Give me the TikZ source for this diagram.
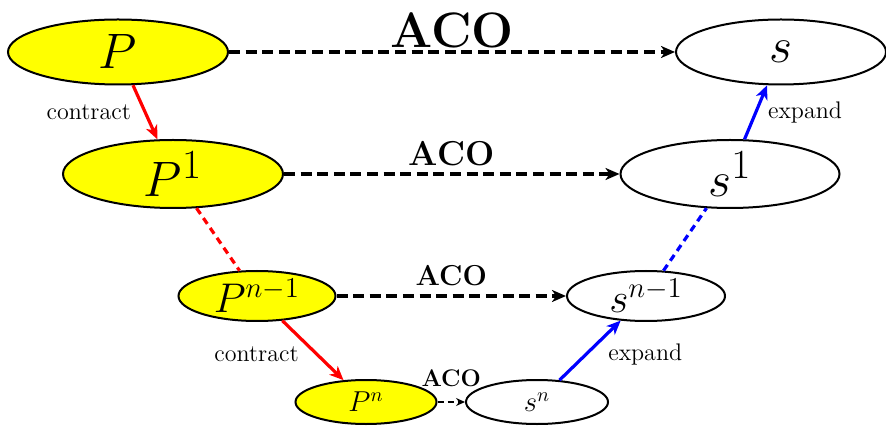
\documentclass[tikz,border=0pt]{standalone}
\usepackage{amsmath}
\usepackage{tikz}
\usetikzlibrary{arrows.meta,shapes.geometric}
\definecolor{prob_yellow}{RGB}{255,255,0}

\begin{document}
\begin{tikzpicture}[x=0.5pt, y=-0.5pt,
    prob/.style={ellipse, draw=black, line width=1pt, fill=prob_yellow, inner sep=0pt},
    sol/.style={ellipse, draw=black, line width=1pt, fill=white, inner sep=0pt},
    aco/.style={-{Stealth[length=7pt,width=6pt,inset=2pt]}, line width=2pt, dash pattern=on 5.5pt off 2.8pt},
    contractarr/.style={-{Stealth[length=7pt,width=6pt,inset=2pt]}, line width=1.6pt, red},
    expandarr/.style={-{Stealth[length=7pt,width=6pt,inset=2pt]}, line width=1.6pt, blue}]
  \useasboundingbox (0,0) rectangle (886,426);
  % Problem side (contraction)
  \node[prob, minimum width=110pt, minimum height=32.5pt] (p0) at (118,52)
    {\Huge $P$};
  \node[prob, minimum width=110pt, minimum height=34pt] (p1) at (173,174)
    {\Huge $P^1$};
  \node[prob, minimum width=78.5pt, minimum height=25pt] (pn1) at (257,296)
    {\huge $P^{n-1}$};
  \node[prob, minimum width=70.5pt, minimum height=22pt] (pn) at (366,402)
    {\Large $P^n$};
  % Solution side (expansion)
  \node[sol, minimum width=105pt, minimum height=32.5pt] (s0) at (781,52)
    {\Huge $s$};
  \node[sol, minimum width=109.5pt, minimum height=34pt] (s1) at (730,174)
    {\Huge $s^1$};
  \node[sol, minimum width=79pt, minimum height=25pt] (sn1) at (646,296)
    {\huge $s^{n-1}$};
  \node[sol, minimum width=71pt, minimum height=22pt] (sn) at (537,402)
    {\Large $s^n$};
  % ACO runs
  \draw[aco] (p0) -- (s0)
    node[midway, above, inner sep=1pt]{\Huge\bfseries ACO};
  \draw[aco] (p1) -- (s1)
    node[midway, above, inner sep=3pt]{\LARGE\bfseries ACO};
  \draw[aco] (pn1) -- (sn1)
    node[midway, above, inner sep=4pt]{\Large\bfseries ACO};
  \draw[-{Stealth[length=4.5pt,width=4pt,inset=1.5pt]}, line width=1pt, dash pattern=on 3pt off 2pt]
    (pn) -- (sn) node[midway, above, inner sep=7pt]{\large\bfseries ACO};
  % Contract
  \draw[contractarr] (p0) -- (p1)
    node[midway, left, xshift=-3pt, text=black]{\large contract};
  \draw[red, line width=1.6pt, dash pattern=on 3.5pt off 2.5pt] (p1) -- (pn1);
  \draw[contractarr] (pn1) -- (pn)
    node[midway, left, xshift=-3pt, yshift=-2pt, text=black]{\large contract};
  % Expand
  \draw[expandarr] (s1) -- (s0)
    node[midway, right, xshift=2pt, text=black]{\large expand};
  \draw[blue, line width=1.6pt, dash pattern=on 3.5pt off 2.5pt] (sn1) -- (s1);
  \draw[expandarr] (sn) -- (sn1)
    node[midway, right, xshift=5pt, yshift=-2pt, text=black]{\large expand};
\end{tikzpicture}
\end{document}
